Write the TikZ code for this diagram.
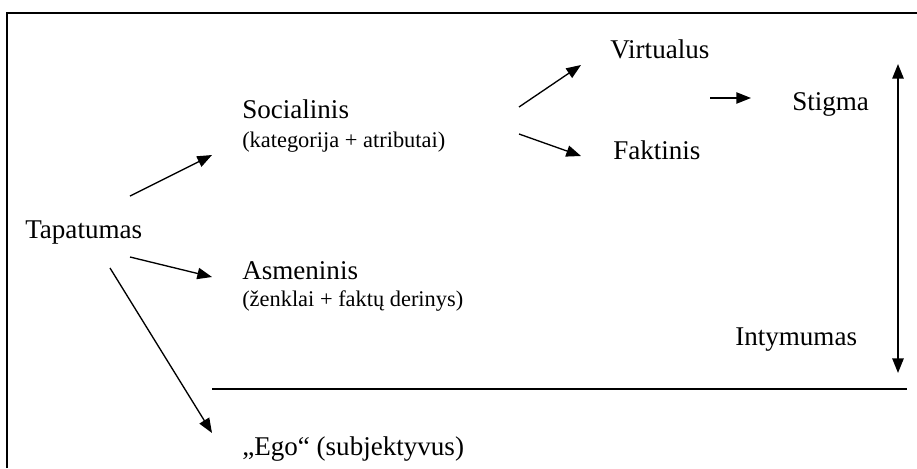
\documentclass[tikz,border=0pt]{standalone}
\usepackage{fontspec}
\setmainfont{Liberation Serif}
\usetikzlibrary{arrows.meta}
\begin{document}
\begin{tikzpicture}[x=0.75pt,y=-0.75pt,
  big/.style={anchor=base west,inner sep=0pt,font=\fontsize{20.3}{24}\selectfont},
  small/.style={anchor=base west,inner sep=0pt,font=\fontsize{16.8}{20}\selectfont},
  arr/.style={line width=1pt,-{Triangle[length=11pt,width=8.5pt]}},
  dblarr/.style={line width=1.4pt,{Triangle[length=11pt,width=8.5pt]}-{Triangle[length=11pt,width=8.5pt]}},
  rule/.style={line width=1.3pt}]
\useasboundingbox (0,0) rectangle (917,468);
% frame
\coordinate (fbl) at (7,468);
\coordinate (ftl) at (7,13);
\coordinate (ftr) at (917,13);
\draw[rule] (fbl) -- (ftl) -- (ftr);
% texts
\node[big] (tap) at (25,238) {Tapatumas};
\node[big] (soc) at (242,118) {Socialinis};
\node[small] (socs) at (242,147) {(kategorija + atributai)};
\node[big] (asm) at (242,279) {Asmeninis};
\node[small] (asms) at (242,306) {(ženklai + faktų derinys)};
\node[big] (ego) at (242,455) {„Ego“ (subjektyvus)};
\node[big] (vir) at (610,58) {Virtualus};
\node[big] (fak) at (613,159) {Faktinis};
\node[big] (sti) at (792,110) {Stigma};
\node[big] (int) at (735,345) {Intymumas};
% arrow end points
\coordinate (a1s) at (130,196); \coordinate (a1e) at (212,155);
\coordinate (a2s) at (130,257); \coordinate (a2e) at (212,277);
\coordinate (a3s) at (110,268); \coordinate (a3e) at (212,433);
\coordinate (a4s) at (519,107); \coordinate (a4e) at (581,65);
\coordinate (a5s) at (519,134); \coordinate (a5e) at (581,156);
\coordinate (a6s) at (710,98);  \coordinate (a6e) at (751,98);
\coordinate (vt) at (898,64);   \coordinate (vb) at (898,373);
\coordinate (hl) at (212,389);  \coordinate (hr) at (907,389);
\draw[arr] (a1s) -- (a1e);
\draw[arr] (a2s) -- (a2e);
\draw[arr] (a3s) -- (a3e);
\draw[arr] (a4s) -- (a4e);
\draw[arr] (a5s) -- (a5e);
\draw[arr] (a6s) -- (a6e);
\draw[dblarr] (vb) -- (vt);
\draw[rule] (hl) -- (hr);
\end{tikzpicture}
\end{document}
